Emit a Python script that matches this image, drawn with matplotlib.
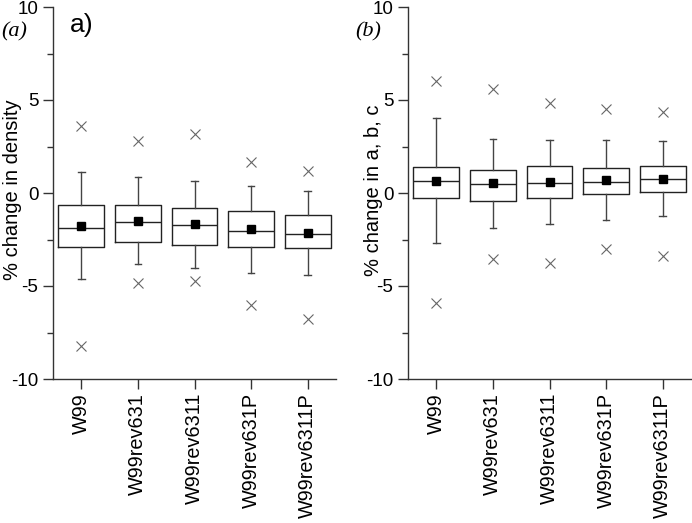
import matplotlib
matplotlib.use("Agg")
import matplotlib.pyplot as plt
from matplotlib.ticker import MultipleLocator

plt.rcParams['font.family'] = ['Liberation Sans', 'DejaVu Sans']

categories = ["W99", "W99rev631", "W99rev6311", "W99rev631P", "W99rev6311P"]

# Panel (a): % change in density
a_q3 = [-0.66, -0.65, -0.79, -0.97, -1.18]
a_q1 = [-2.89, -2.62, -2.80, -2.89, -2.97]
a_med = [-1.86, -1.54, -1.74, -2.06, -2.19]
a_mean = [-1.77, -1.50, -1.68, -1.95, -2.15]
a_whishi = [1.11, 0.88, 0.66, 0.38, 0.11]
a_whislo = [-4.64, -3.83, -4.01, -4.28, -4.41]
a_max = [3.58, 2.78, 3.17, 1.67, 1.18]
a_min = [-8.24, -4.82, -4.75, -6.04, -6.76]

# Panel (b): % change in a, b, c
b_q3 = [1.42, 1.22, 1.45, 1.33, 1.47]
b_q1 = [-0.25, -0.41, -0.27, -0.05, 0.05]
b_med = [0.63, 0.47, 0.56, 0.57, 0.73]
b_mean = [0.66, 0.52, 0.61, 0.70, 0.77]
b_whishi = [4.05, 2.90, 2.83, 2.85, 2.78]
b_whislo = [-2.69, -1.86, -1.68, -1.47, -1.25]
b_max = [6.04, 5.61, 4.82, 4.53, 4.37]
b_min = [-5.90, -3.53, -3.76, -2.99, -3.39]

yticks = [-10, -5, 0, 5, 10]

fig = plt.figure(figsize=(6.92, 5.23), dpi=100)
ax1 = fig.add_axes([53/692, 1-379/523, 283/692, 372/523])
ax2 = fig.add_axes([408/692, 1-379/523, 283/692, 372/523])


def draw(ax, q1, q3, med, mean, wlo, whi, mn, mx, ylabel):
    stats = []
    for i in range(len(categories)):
        stats.append(dict(med=med[i], q1=q1[i], q3=q3[i], whislo=wlo[i], whishi=whi[i],
                          mean=mean[i], fliers=[mn[i], mx[i]], label=categories[i]))
    pos = list(range(1, len(categories) + 1))
    ax.bxp(stats, positions=pos, widths=0.81, showmeans=True, showfliers=True,
           capwidths=0.12,
           boxprops=dict(color='#222222', linewidth=1.0),
           medianprops=dict(color='#222222', linewidth=1.0),
           whiskerprops=dict(color='#444444', linewidth=1.0),
           capprops=dict(color='#444444', linewidth=1.0),
           meanprops=dict(marker='s', markerfacecolor='black', markeredgecolor='black', markersize=6),
           flierprops=dict(marker='x', markeredgecolor='#666666', markersize=7, markeredgewidth=0.8,
                           linestyle='none'))
    ax.set_xlim(0.5, 5.5)
    ax.set_ylim(-10, 10)
    ax.set_yticks(yticks)
    ax.set_yticklabels([str(t) for t in yticks], fontsize=13.5)
    ax.yaxis.set_minor_locator(MultipleLocator(2.5))
    ax.set_xticks(pos)
    ax.set_xticklabels(categories, rotation=90, fontsize=14.3)
    ax.tick_params(axis='both', which='major', direction='out', length=7, width=1, color='#333333')
    ax.tick_params(axis='y', which='minor', direction='out', length=4, width=1, color='#333333')
    ax.tick_params(axis='x', pad=3)
    for s in ['top', 'right']:
        ax.spines[s].set_visible(False)
    for s in ['left', 'bottom']:
        ax.spines[s].set_linewidth(1.0)
        ax.spines[s].set_color('#333333')
    ax.set_ylabel(ylabel, fontsize=14.5)
    ax.patch.set_alpha(0)


draw(ax1, a_q1, a_q3, a_med, a_mean, a_whislo, a_whishi, a_min, a_max, "% change in density")
draw(ax2, b_q1, b_q3, b_med, b_mean, b_whislo, b_whishi, b_min, b_max, "% change in a, b, c")

ax1.yaxis.set_label_coords(-31/283, 0.508)
ax2.yaxis.set_label_coords(-25/283, 0.508)

fig.text(14/692, 1-32/523, "(a)", family='Liberation Serif', style='italic', fontsize=16,
         ha='center', va='center')
fig.text(82/692, 1-25/523, "a)", fontsize=19, ha='center', va='center')
fig.text(368/692, 1-32/523, "(b)", family='Liberation Serif', style='italic', fontsize=16,
         ha='center', va='center')

fig.savefig("out.png", dpi=100)
